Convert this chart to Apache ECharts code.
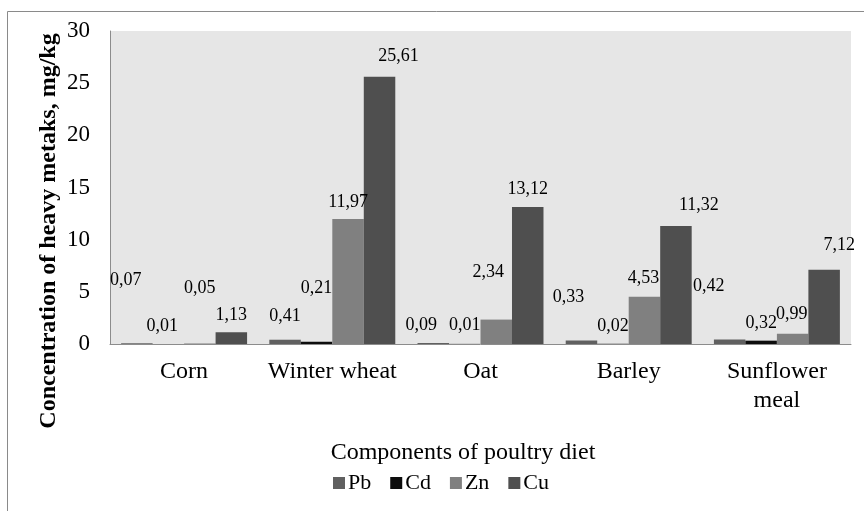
<!DOCTYPE html>
<html>
<head>
<meta charset="utf-8">
<script src="https://cdn.jsdelivr.net/npm/echarts@6/dist/echarts.min.js"></script>
<style>html,body{margin:0;padding:0;background:#fff}#c{width:864px;height:511px}</style>
</head>
<body>
<div id="c"></div>
<script>
const categories = ['Corn', 'Winter wheat', 'Oat', 'Barley', 'Sunflower\nmeal'];
const seriesNames = ['Pb', 'Cd', 'Zn', 'Cu'];
const pb = [0.07, 0.41, 0.09, 0.33, 0.42];
const cd = [0.01, 0.21, 0.01, 0.02, 0.32];
const zn = [0.05, 11.97, 2.34, 4.53, 0.99];
const cu = [1.13, 25.61, 13.12, 11.32, 7.12];
const yTicks = [0, 5, 10, 15, 20, 25, 30];

// label nudges (style only), per series per category
const labelNudge = [
  [[-11, -46], [0, -6], [-12, -1], [-13, -26], [-21, -36]],
  [[-6, -1], [0, -37], [0, -2], [0, -1], [0, 0]],
  [[0, -38], [0, 0], [-8, -30], [-1, -1], [-1, -2]],
  [[0, 0], [19, -4], [0, -1], [23, -4], [15, -7]]
];
const colors = ['#606060', '#0d0d0d', '#808080', '#4f4f4f'];
const FONT = '"Liberation Serif", "Times New Roman", "DejaVu Serif", serif';

const values = [pb, cd, zn, cu];
const chart = echarts.init(document.getElementById('c'));
chart.setOption({
  animation: false,
  textStyle: { fontFamily: FONT, color: '#000' },
  graphic: [
    { type: 'rect', shape: { x: 7.5, y: 11.5, width: 900, height: 600 }, style: { fill: 'none', stroke: '#8a8a8a', lineWidth: 1 }, z: 0 },
    { type: 'text', x: 49, y: 231, rotation: Math.PI / 2,
      style: { text: 'Concentration of heavy metaks, mg/kg', fontFamily: FONT, fontWeight: 'bold', fontSize: 24, fill: '#000', align: 'center', verticalAlign: 'middle' } },
    { type: 'text', x: 463, y: 453,
      style: { text: 'Components of poultry diet', fontFamily: FONT, fontSize: 24, fill: '#000', align: 'center', verticalAlign: 'middle' } }
  ],
  grid: { left: 110, right: 13, top: 31, bottom: 167, show: true, backgroundColor: '#e6e6e6', borderWidth: 0 },
  legend: {
    bottom: 12, left: 328,
    itemWidth: 12, itemHeight: 12, itemGap: 19,
    icon: 'rect',
    textStyle: { fontFamily: FONT, fontSize: 22, color: '#000', padding: [0, 0, 0, -2] },
    data: seriesNames
  },
  xAxis: {
    type: 'category', data: categories,
    axisLine: { lineStyle: { color: '#8c8c8c', width: 1 } },
    axisTick: { show: false },
    axisLabel: { fontFamily: FONT, fontSize: 24, color: '#000', margin: 13, lineHeight: 29, interval: 0 }
  },
  yAxis: {
    type: 'value', min: 0, max: 30, interval: 5,
    axisLine: { show: true, lineStyle: { color: '#8c8c8c', width: 1 } },
    axisTick: { show: false },
    splitLine: { show: false },
    axisLabel: { fontFamily: FONT, fontSize: 23, color: '#000', margin: 20,
      customValues: yTicks }
  },
  series: values.map((vals, si) => ({
    name: seriesNames[si], type: 'bar',
    barGap: '0%', barCategoryGap: '15%',
    itemStyle: { color: colors[si] },
    data: vals.map((v, ci) => ({
      value: v,
      label: { offset: labelNudge[si][ci] }
    })),
    label: {
      show: true, position: 'top', distance: 8,
      fontFamily: FONT, fontSize: 18, color: '#000',
      formatter: p => p.value.toFixed(2).replace('.', ',')
    }
  }))
});
</script>
</body>
</html>
